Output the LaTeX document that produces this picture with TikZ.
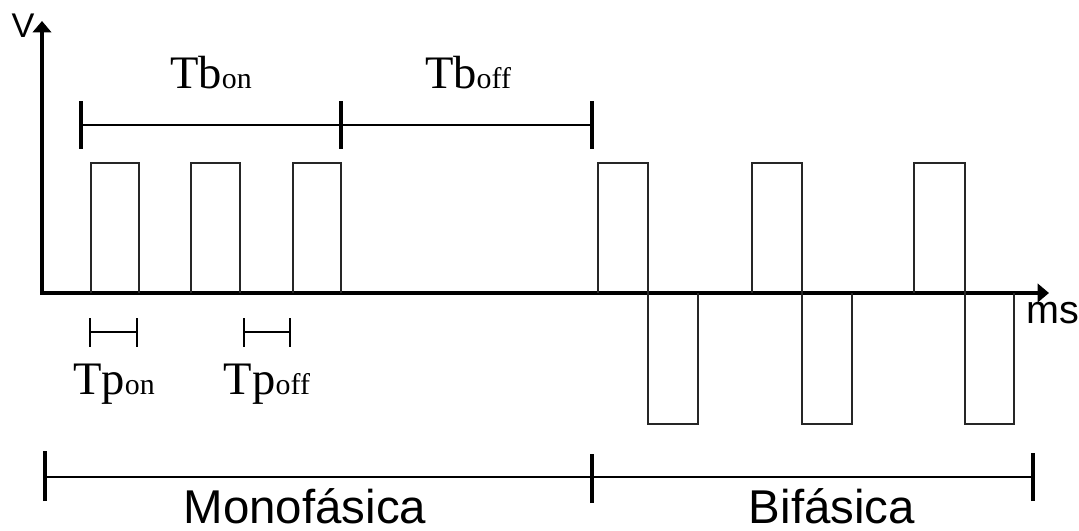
\documentclass[tikz,border=0pt]{standalone}
\usepackage{fontspec}
\setmainfont{Liberation Serif}
\newfontfamily\arialf{Liberation Sans}
\usetikzlibrary{arrows.meta}
\tikzset{
  axis/.style={line width=2.3pt, -{Triangle[length=6.5pt,width=10.5pt]}},
  pulse/.style={line width=1.15pt, draw=black!85},
  barline/.style={line width=1.7pt},
  bartick/.style={line width=2.3pt},
  smallbar/.style={line width=1pt},
  serlab/.style={inner sep=0pt, anchor=base},
  sanslab/.style={inner sep=0pt, anchor=base, font=\arialf\fontsize{27}{30}\selectfont},
}
\newcommand{\bigT}[2]{{\fontsize{26.5}{30}\selectfont #1}{\fontsize{17}{20}\selectfont #2}}
\begin{document}
\begin{tikzpicture}[x=0.02cm,y=-0.02cm]
\useasboundingbox (0,0) rectangle (1079,531);
% axes
\coordinate (O) at (42,293);
\coordinate (ytop) at (42,21);
\coordinate (xend) at (1049,293);
\draw[axis] (O) -- (ytop);
\draw[axis] ([xshift=-1.1pt]O) -- (xend);
\node[inner sep=0pt, anchor=base, font=\arialf\fontsize{19.5}{22}\selectfont] (V) at (23,37) {V};
\node[inner sep=0pt, anchor=base west, font=\arialf\fontsize{22.5}{26}\selectfont] (ms) at (1026,323) {ms};
% monophasic pulses
\foreach \a/\b in {91/139,191/240,293/341}
  \draw[pulse] (\a,293) -- (\a,163) -- (\b,163) -- (\b,293);
% biphasic pulses
\foreach \a/\b/\c in {598/648/698,752/802/852,914/965/1014}{
  \draw[pulse] (\a,293) -- (\a,163) -- (\b,163) -- (\b,293);
  \draw[pulse] (\b,293) -- (\b,424) -- (\c,424) -- (\c,293);
}
% Tb bars
\coordinate (tb1) at (81,125);
\coordinate (tb2) at (341,125);
\coordinate (tb3) at (592,125);
\draw[barline] (tb1) -- (tb2) -- (tb3);
\foreach \p in {tb1,tb2,tb3}
  \draw[bartick] ([yshift=-0.48cm]\p) -- ([yshift=0.48cm]\p);
\node[serlab] (tbon) at (211,88) {\bigT{Tb}{on}};
\node[serlab] (tboff) at (468,88) {\bigT{Tb}{off}};
% Tp bars
\coordinate (tp1) at (90,332);
\coordinate (tp2) at (137,332);
\coordinate (tp3) at (244,332);
\coordinate (tp4) at (290,332);
\draw[smallbar] (tp1) -- (tp2);
\draw[smallbar] (tp3) -- (tp4);
\foreach \p in {tp1,tp2,tp3,tp4}
  \draw[smallbar] ([yshift=-0.29cm]\p) -- ([yshift=0.29cm]\p);
\node[serlab] (tpon) at (114,394) {\bigT{Tp}{on}};
\node[serlab] (tpoff) at (267,394) {\bigT{Tp}{off}};
% bottom bars
\coordinate (m1) at (45,477);
\coordinate (m2) at (592,477);
\coordinate (m3) at (1033,477);
\draw[barline] (m1) -- (m2) -- (m3);
\draw[bartick] ([yshift=-0.48cm]m1) -- ([yshift=0.52cm]m1);
\draw[bartick] ([yshift=-0.52cm]m2) -- ([yshift=0.46cm]m2);
\draw[bartick] ([yshift=-0.48cm]m3) -- ([yshift=0.48cm]m3);
\node[sanslab] (mono) at (305,523) {Monofásica};
\node[sanslab] (bi) at (832,523) {Bifásica};
\end{tikzpicture}
\end{document}
